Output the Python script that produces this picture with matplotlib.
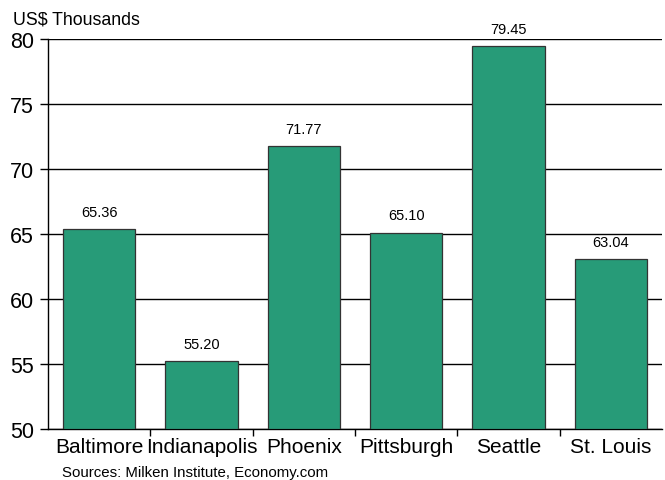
import numpy as np
import matplotlib.pyplot as plt

plt.rcParams['font.family'] = ['Liberation Sans', 'DejaVu Sans']

cities = ["Baltimore", "Indianapolis", "Phoenix", "Pittsburgh", "Seattle", "St. Louis"]
values = [65.36, 55.20, 71.77, 65.10, 79.45, 63.04]

fig = plt.figure(figsize=(6.65, 4.81), dpi=100)
ax = fig.add_axes([48 / 665, 1 - 430 / 481, 614 / 665, 390 / 481])

x = np.arange(len(cities))
ax.bar(x, [v - 50 for v in values], bottom=50, width=0.71,
       color="#279b78", edgecolor="#333333", linewidth=0.9, zorder=3)

for xi, v in zip(x, values):
    ax.text(xi, v + 0.8, f"{v:.2f}", ha="center", va="bottom", fontsize=10.5)

ax.set_xlim(-0.5, len(cities) - 0.5)
ax.set_ylim(50, 80)
ax.set_yticks(range(50, 81, 5))
ax.tick_params(axis="y", labelsize=15.5, length=6, width=1, pad=4)
ax.yaxis.grid(True, color="black", linewidth=1, zorder=1)

# category labels centred, ticks on boundaries
ax.set_xticks(x)
ax.set_xticklabels(cities, fontsize=15)
ax.tick_params(axis="x", which="major", length=0, pad=6)
ax.set_xticks(np.arange(len(cities) + 1)[1:-1] - 0.5, minor=True)
ax.tick_params(axis="x", which="minor", length=5, width=1)

for side in ["top", "right"]:
    ax.spines[side].set_visible(False)
ax.spines["left"].set_linewidth(1)
ax.spines["bottom"].set_linewidth(1)

fig.text(13 / 665, 1 - 24 / 481, "US$ Thousands", fontsize=12.8, va="baseline", ha="left")
fig.text(62 / 665, 1 - 477 / 481, "Sources: Milken Institute, Economy.com", fontsize=10.8,
         va="baseline", ha="left")

fig.savefig("out.png", dpi=100)
